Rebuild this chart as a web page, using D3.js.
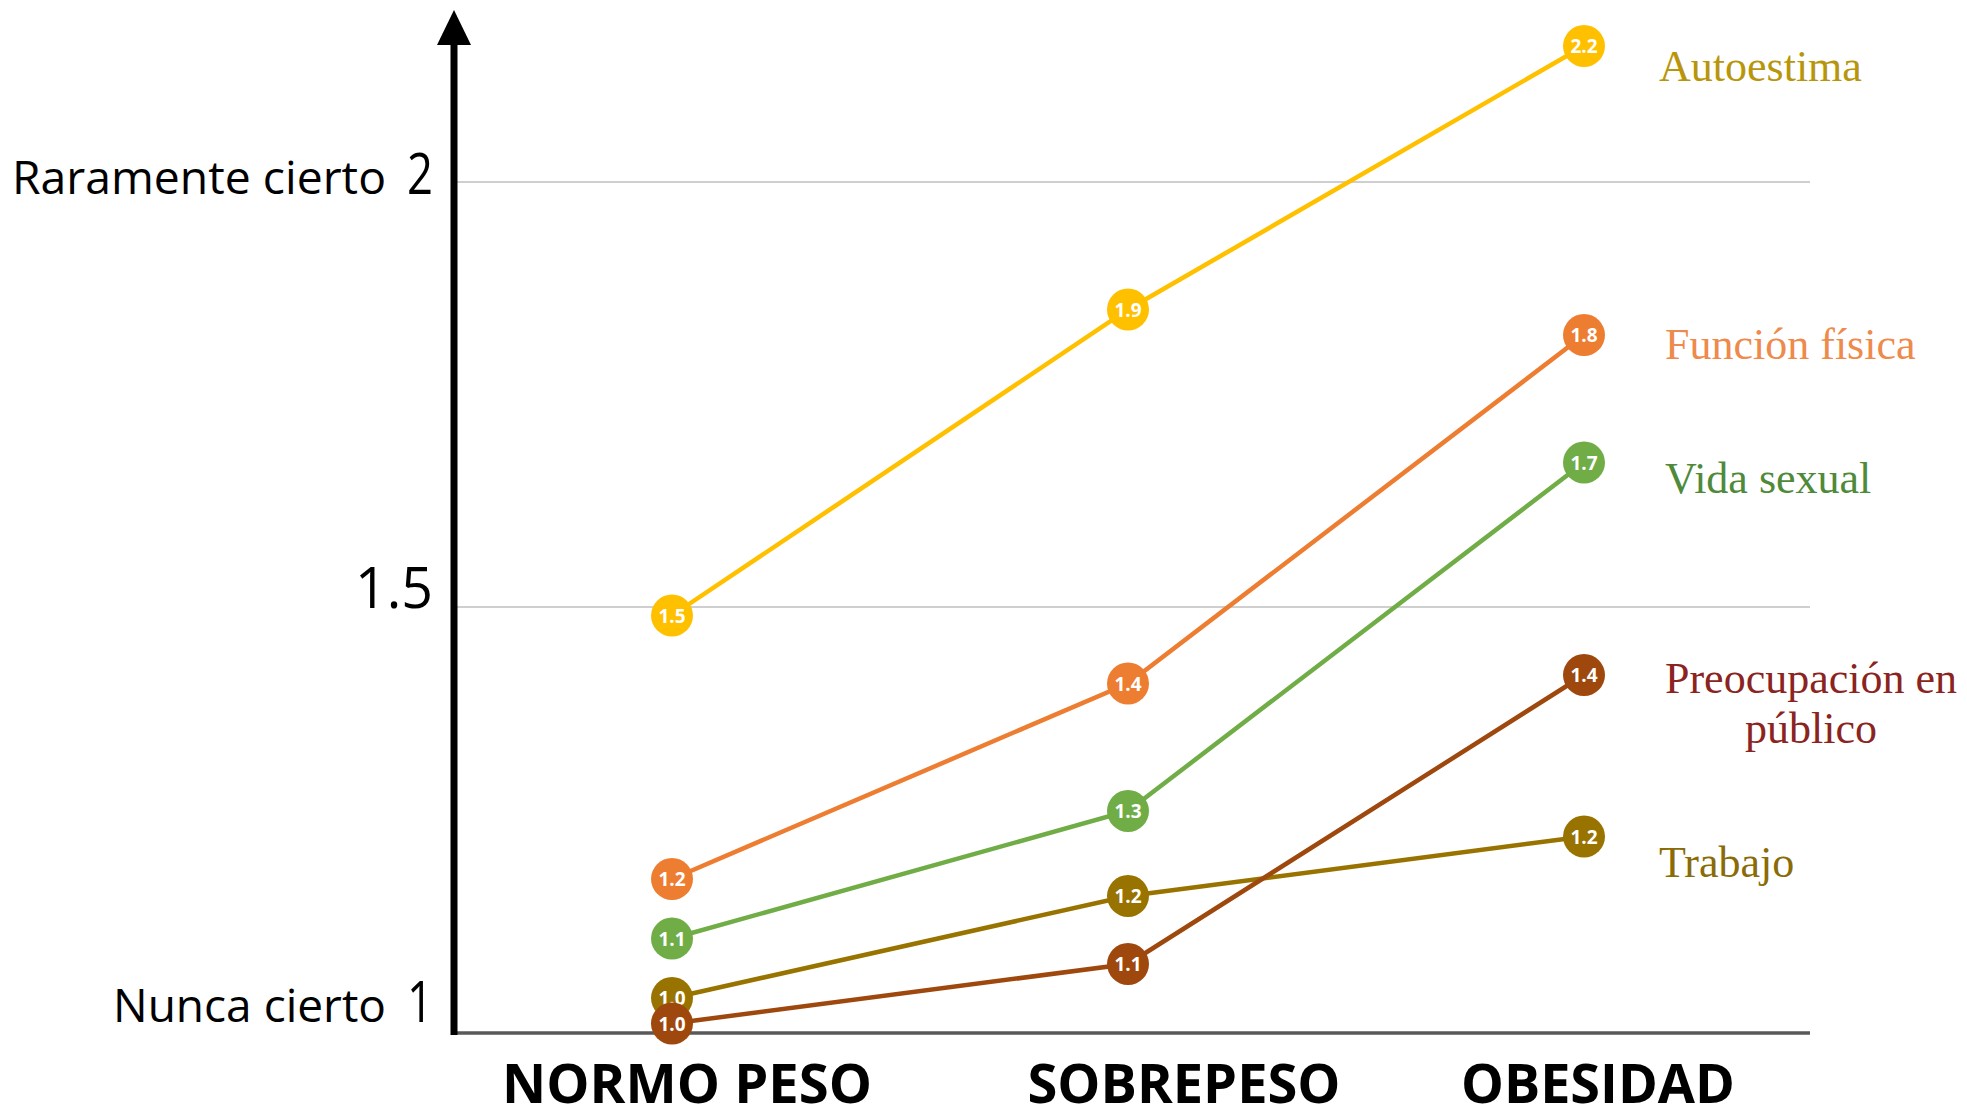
<!DOCTYPE html>
<html>
<head>
<meta charset="utf-8">
<script src="https://cdn.jsdelivr.net/npm/d3@7"></script>
<style>
  html, body { margin: 0; padding: 0; background: #fff; }
  svg { display: block; }
</style>
</head>
<body>
<svg id="chart" width="1967" height="1118"></svg>
<script>
// Weight groups along the horizontal axis
const categories = ["NORMO PESO", "SOBREPESO", "OBESIDAD"];

// Mean scores per dimension (1 = nunca cierto, 2 = raramente cierto)
const seriesNames = ["Autoestima", "Función física", "Vida sexual", "Trabajo", "Preocupación en público"];
const autoestima   = [1.49, 1.85, 2.16];
const funcionFisica = [1.18, 1.41, 1.82];
const vidaSexual   = [1.11, 1.26, 1.67];
const trabajo      = [1.04, 1.16, 1.23];
const preocupacion = [1.01, 1.08, 1.42];

// Y axis ticks and their verbal anchors
const tickValues = [1, 1.5, 2];
const tickLabels = ["1", "1.5", "2"];
const tickWords  = ["Nunca cierto", "", "Raramente cierto"];

// Styling, kept apart from the values
const lineColors  = ["#FFC000", "#ED7D31", "#70AD47", "#997300", "#9E480E"];
const labelColors = ["#B8960C", "#EE8A4C", "#4E8A3A", "#8A6B07", "#8B2420"];
const labelLayout = [
  { x: 1659, dy: 35, anchor: "start", lines: ["Autoestima"] },
  { x: 1665, dy: 24, anchor: "start", lines: ["Función física"] },
  { x: 1665, dy: 30, anchor: "start", lines: ["Vida sexual"] },
  { x: 1659, dy: 40, anchor: "start", lines: ["Trabajo"] },
  { x: 1811, dy: 18, anchor: "middle", lines: ["Preocupación en", "público"] }
];
const catOffsets = [15, 56, 14];
const catWidths  = [370, 313, 274];

const series = [autoestima, funcionFisica, vidaSexual, trabajo, preocupacion];

const svg = d3.select("#chart");

const x = d3.scalePoint().domain(categories).range([672, 1584]);
const y = d3.scaleLinear().domain([1, 2]).range([1032, 182]);

const axisX = 454, plotRight = 1810;

// Horizontal gridlines
svg.append("g").selectAll("line")
  .data(tickValues.filter(v => v > 1))
  .join("line")
  .attr("x1", axisX).attr("x2", plotRight)
  .attr("y1", d => y(d)).attr("y2", d => y(d))
  .attr("stroke", "#BFBFBF").attr("stroke-width", 1.6);

// Baseline
svg.append("line")
  .attr("x1", axisX).attr("x2", plotRight)
  .attr("y1", y(1) + 1).attr("y2", y(1) + 1)
  .attr("stroke", "#595959").attr("stroke-width", 3.5);

// Vertical axis with arrow head
svg.append("line")
  .attr("x1", axisX).attr("x2", axisX)
  .attr("y1", y(1) + 3).attr("y2", 40)
  .attr("stroke", "#000").attr("stroke-width", 7);
svg.append("path")
  .attr("d", `M${axisX},10 L${axisX + 17},45 L${axisX - 17},45 Z`)
  .attr("fill", "#000");

// Tick numbers and descriptors
const tickDy = [-10, 1, 12];
const tickG = svg.append("g");
tickValues.forEach((v, i) => {
  tickG.append("text")
    .attr("x", 433).attr("y", y(v) + tickDy[i])
    .attr("text-anchor", "end")
    .attr("font-family", "'Open Sans', sans-serif")
    .attr("font-size", 56)
    .attr("textLength", tickLabels[i].length === 1 ? 26 : 78)
    .attr("lengthAdjust", "spacingAndGlyphs")
    .text(tickLabels[i]);
  if (tickWords[i]) {
    const w = tickWords[i] === "Nunca cierto" ? 273 : 374;
    tickG.append("text")
      .attr("x", 386 - w).attr("y", y(v) + tickDy[i])
      .attr("font-family", "'Open Sans', sans-serif")
      .attr("font-size", 46)
      .attr("textLength", w)
      .attr("lengthAdjust", "spacingAndGlyphs")
      .text(tickWords[i]);
  }
});

// Category labels
svg.append("g").selectAll("text")
  .data(categories)
  .join("text")
  .attr("x", (d, i) => x(d) + catOffsets[i] - catWidths[i] / 2)
  .attr("y", 1103)
  .attr("font-family", "'Open Sans', sans-serif")
  .attr("font-weight", 700)
  .attr("font-size", 54)
  .attr("textLength", (d, i) => catWidths[i])
  .attr("lengthAdjust", "spacingAndGlyphs")
  .text(d => d);

// Lines, markers and value labels
const line = d3.line().x((d, i) => x(categories[i])).y(d => y(d));
const fmt = d3.format(".1f");

series.forEach((vals, s) => {
  const g = svg.append("g");
  g.append("path")
    .datum(vals)
    .attr("d", line)
    .attr("fill", "none")
    .attr("stroke", lineColors[s])
    .attr("stroke-width", 4.5);
  g.selectAll("circle")
    .data(vals)
    .join("circle")
    .attr("cx", (d, i) => x(categories[i]))
    .attr("cy", d => y(d))
    .attr("r", 21)
    .attr("fill", lineColors[s]);
  g.selectAll("text")
    .data(vals)
    .join("text")
    .attr("x", (d, i) => x(categories[i]))
    .attr("y", d => y(d) + 7)
    .attr("text-anchor", "middle")
    .attr("font-family", "'Open Sans', sans-serif")
    .attr("font-weight", 700)
    .attr("font-size", 19)
    .attr("fill", "#fff")
    .text(d => fmt(d));
});

// Series names at the right end
seriesNames.forEach((name, s) => {
  const L = labelLayout[s];
  const last = series[s][series[s].length - 1];
  const t = svg.append("text")
    .attr("x", L.x)
    .attr("y", y(last) + L.dy)
    .attr("text-anchor", L.anchor)
    .attr("font-family", "'Liberation Serif', 'Times New Roman', serif")
    .attr("font-size", 44)
    .attr("fill", labelColors[s]);
  L.lines.forEach((ln, k) => {
    t.append("tspan")
      .attr("x", L.x)
      .attr("dy", k === 0 ? 0 : 50)
      .text(ln);
  });
});
</script>
</body>
</html>
